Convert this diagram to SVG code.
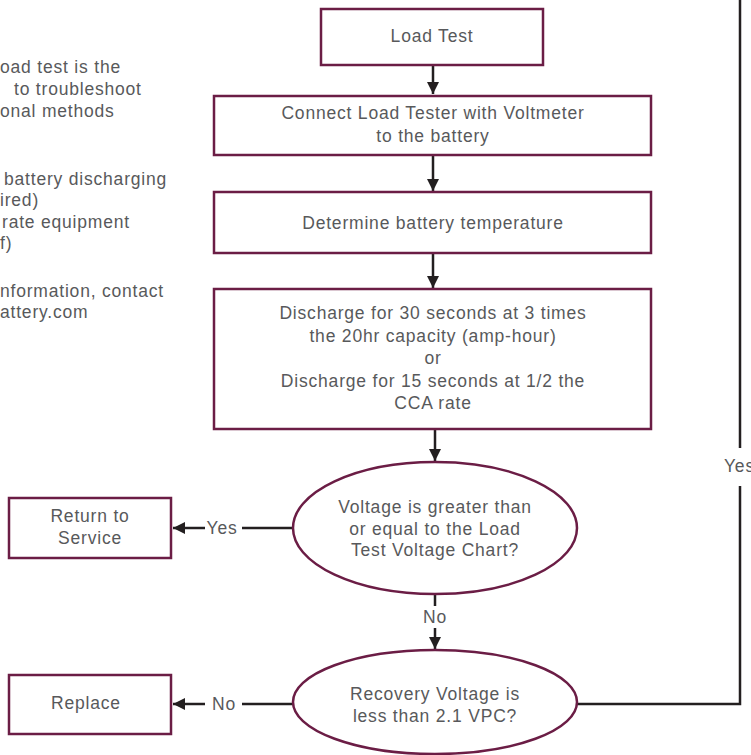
<svg xmlns="http://www.w3.org/2000/svg" width="751" height="755" viewBox="0 0 751 755">
<defs>
<marker id="ah" viewBox="0 0 12 12" refX="12" refY="6" markerWidth="12" markerHeight="12" markerUnits="userSpaceOnUse" orient="auto">
<path d="M0,0 L12,6 L0,12 Z" fill="#231f20"/>
</marker>
<style>
.box{fill:#fff;stroke:#6b1d45;stroke-width:2.5}
.t{font-family:"Liberation Sans",Arial,sans-serif;font-size:17.5px;letter-spacing:0.8px;fill:#58595b;text-anchor:middle}
.s{font-family:"Liberation Sans",Arial,sans-serif;font-size:17.5px;letter-spacing:0.8px;fill:#58595b}
.c{fill:none;stroke:#231f20;stroke-width:2.5}
.ca{fill:none;stroke:#231f20;stroke-width:2.5;marker-end:url(#ah)}
</style>
</defs>
<rect width="751" height="755" fill="#fff"/>
<g id="sidetext">
<text class="s" x="0" y="73">oad test is the</text>
<text class="s" x="14" y="95">to troubleshoot</text>
<text class="s" x="0" y="117">onal methods</text>
<text class="s" x="4" y="185">battery discharging</text>
<text class="s" x="0" y="206">ired)</text>
<text class="s" x="2" y="228">rate equipment</text>
<text class="s" x="0" y="249">f)</text>
<text class="s" x="0" y="297">nformation, contact</text>
<text class="s" x="0" y="318">attery.com</text>
</g>
<g id="connectors">
<line class="ca" x1="433" y1="65" x2="433" y2="94"/>
<line class="ca" x1="433" y1="155" x2="433" y2="191"/>
<line class="ca" x1="433" y1="253" x2="433" y2="288"/>
<line class="ca" x1="435" y1="429" x2="435" y2="461"/>
<line class="c" x1="435" y1="595" x2="435" y2="606"/>
<text class="t" x="435" y="623">No</text>
<line class="ca" x1="435" y1="628" x2="435" y2="649"/>
<line class="c" x1="293" y1="528" x2="242" y2="528"/>
<text class="t" x="222" y="534">Yes</text>
<line class="ca" x1="205" y1="528" x2="173" y2="528"/>
<line class="c" x1="293" y1="704" x2="242" y2="704"/>
<text class="t" x="224" y="710">No</text>
<line class="ca" x1="205" y1="704" x2="173" y2="704"/>
<polyline class="c" points="577,704 740,704 740,486"/>
<line class="c" x1="740" y1="448" x2="740" y2="0"/>
<text class="s" x="724" y="472">Yes</text>
</g>
<g id="n1">
<rect class="box" x="321" y="9" width="222" height="56"/>
<text class="t" x="432" y="42">Load Test</text>
</g>
<g id="n2">
<rect class="box" x="214" y="96" width="437" height="59"/>
<text class="t" x="433" y="119">Connect Load Tester with Voltmeter</text>
<text class="t" x="433" y="142">to the battery</text>
</g>
<g id="n3">
<rect class="box" x="214" y="192" width="437" height="61"/>
<text class="t" x="433" y="229">Determine battery temperature</text>
</g>
<g id="n4">
<rect class="box" x="214" y="289" width="437" height="140"/>
<text class="t" x="433" y="319">Discharge for 30 seconds at 3 times</text>
<text class="t" x="433" y="342">the 20hr capacity (amp-hour)</text>
<text class="t" x="433" y="364">or</text>
<text class="t" x="433" y="387">Discharge for 15 seconds at 1/2 the</text>
<text class="t" x="433" y="409">CCA rate</text>
</g>
<g id="d1">
<ellipse class="box" cx="435" cy="528" rx="142" ry="66"/>
<text class="t" x="435" y="513">Voltage is greater than</text>
<text class="t" x="435" y="535">or equal to the Load</text>
<text class="t" x="435" y="556">Test Voltage Chart?</text>
</g>
<g id="d2">
<ellipse class="box" cx="435" cy="702" rx="142" ry="52"/>
<text class="t" x="435" y="700">Recovery Voltage is</text>
<text class="t" x="435" y="722">less than 2.1 VPC?</text>
</g>
<g id="rts">
<rect class="box" x="9" y="498" width="162" height="60"/>
<text class="t" x="90" y="522">Return to</text>
<text class="t" x="90" y="544">Service</text>
</g>
<g id="rep">
<rect class="box" x="9" y="675" width="162" height="59"/>
<text class="t" x="86" y="709">Replace</text>
</g>
</svg>
